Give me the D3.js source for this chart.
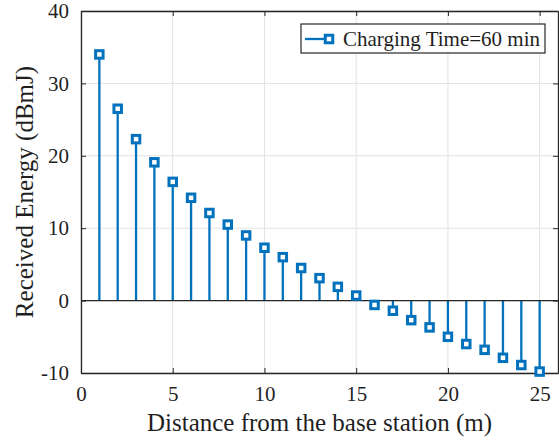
<!DOCTYPE html>
<html>
<head>
<meta charset="utf-8">
<script src="https://cdn.jsdelivr.net/npm/d3@7"></script>
<style>
  body { margin: 0; background: #fff; }
  svg text { font-family: "Liberation Serif", "Times New Roman", serif; fill: #1f1f1f; }
</style>
</head>
<body>
<div id="chart"></div>
<script>
// distances (m) and received energy (dBmJ)
const distance = [1, 2, 3, 4, 5, 6, 7, 8, 9, 10, 11, 12, 13, 14, 15, 16, 17, 18, 19, 20, 21, 22, 23, 24, 25];
const energy = [34.0, 26.5, 22.3, 19.1, 16.4, 14.2, 12.1, 10.5, 9.0, 7.3, 6.0, 4.5, 3.1, 1.9, 0.7,
  -0.6, -1.4, -2.7, -3.7, -5.0, -6.0, -6.8, -7.9, -8.9, -9.8];
const xTicks = [0, 5, 10, 15, 20, 25];
const yTicks = [-10, 0, 10, 20, 30, 40];
const seriesName = 'Charging Time=60 min';

const width = 559, height = 442;
const margin = {top: 11, right: 1, bottom: 69, left: 81};
const blue = '#0072BD';
const serif = '"Liberation Serif", "Times New Roman", serif';

const svg = d3.select('#chart').append('svg')
  .attr('width', width)
  .attr('height', height);

const x = d3.scaleLinear().domain([0, 26]).range([margin.left, width - margin.right]);
const y = d3.scaleLinear().domain([-10, 40]).range([height - margin.bottom, margin.top]);

// grid
svg.append('g')
  .selectAll('line')
  .data(xTicks)
  .enter().append('line')
  .attr('x1', d => x(d)).attr('x2', d => x(d))
  .attr('y1', y(-10)).attr('y2', y(40))
  .attr('stroke', '#e2e2e2').attr('stroke-width', 1);
svg.append('g')
  .selectAll('line')
  .data(yTicks)
  .enter().append('line')
  .attr('x1', x(0)).attr('x2', x(26))
  .attr('y1', d => y(d)).attr('y2', d => y(d))
  .attr('stroke', '#e2e2e2').attr('stroke-width', 1);

// axes (ticks inward, MATLAB style); plain hyphen for negatives
const axisColor = '#262626';
const fmt = d => String(d);
const gBottom = svg.append('g')
  .attr('transform', `translate(0,${y(-10)})`)
  .call(d3.axisBottom(x).tickValues(xTicks).tickFormat(fmt).tickSizeInner(-5).tickSizeOuter(0).tickPadding(13));
const gLeft = svg.append('g')
  .attr('transform', `translate(${x(0)},0)`)
  .call(d3.axisLeft(y).tickValues(yTicks).tickFormat(fmt).tickSizeInner(-5).tickSizeOuter(0).tickPadding(12));
const gTop = svg.append('g')
  .attr('transform', `translate(0,${y(40)})`)
  .call(d3.axisTop(x).tickValues(xTicks).tickSizeInner(-5).tickSizeOuter(0).tickFormat(''));
const gRight = svg.append('g')
  .attr('transform', `translate(${x(26)},0)`)
  .call(d3.axisRight(y).tickValues(yTicks).tickSizeInner(-5).tickSizeOuter(0).tickFormat(''));

[gBottom, gLeft, gTop, gRight].forEach(g => {
  g.attr('font-family', serif).attr('font-size', 21);
  g.select('.domain').attr('stroke', axisColor).attr('stroke-width', 1.3);
  g.selectAll('.tick line').attr('stroke', axisColor);
  g.selectAll('.tick text').attr('fill', '#1f1f1f');
});

// stems
svg.append('g')
  .selectAll('line')
  .data(distance)
  .enter().append('line')
  .attr('x1', d => x(d)).attr('x2', d => x(d))
  .attr('y1', y(0))
  .attr('y2', (d, i) => y(energy[i]))
  .attr('stroke', blue).attr('stroke-width', 2.3);

// baseline
svg.append('line')
  .attr('x1', x(0)).attr('x2', x(26))
  .attr('y1', y(0)).attr('y2', y(0))
  .attr('stroke', axisColor).attr('stroke-width', 1.3);

// markers
const ms = 7.5;
svg.append('g')
  .selectAll('rect')
  .data(distance)
  .enter().append('rect')
  .attr('x', d => x(d) - ms / 2)
  .attr('y', (d, i) => y(energy[i]) - ms / 2)
  .attr('width', ms).attr('height', ms)
  .attr('fill', '#fff')
  .attr('stroke', blue).attr('stroke-width', 3);

// legend
const legend = svg.append('g').attr('transform', 'translate(301,24)');
legend.append('rect')
  .attr('width', 244).attr('height', 29)
  .attr('fill', '#fff').attr('stroke', axisColor).attr('stroke-width', 1.2);
legend.append('line')
  .attr('x1', 4).attr('x2', 28).attr('y1', 15).attr('y2', 15)
  .attr('stroke', blue).attr('stroke-width', 2.3);
legend.append('rect')
  .attr('x', 28 - ms / 2).attr('y', 15 - ms / 2).attr('width', ms).attr('height', ms)
  .attr('fill', '#fff').attr('stroke', blue).attr('stroke-width', 3);
legend.append('text')
  .attr('x', 42).attr('y', 22)
  .style('font-size', '21px')
  .text(seriesName);

// axis labels
svg.append('text')
  .attr('x', (x(0) + x(26)) / 2).attr('y', 431)
  .attr('text-anchor', 'middle')
  .style('font-size', '25px')
  .text('Distance from the base station (m)');
svg.append('text')
  .attr('transform', `translate(33,${(y(-10) + y(40)) / 2}) rotate(-90)`)
  .attr('text-anchor', 'middle')
  .style('font-size', '25px')
  .text('Received Energy (dBmJ)');
</script>
</body>
</html>
